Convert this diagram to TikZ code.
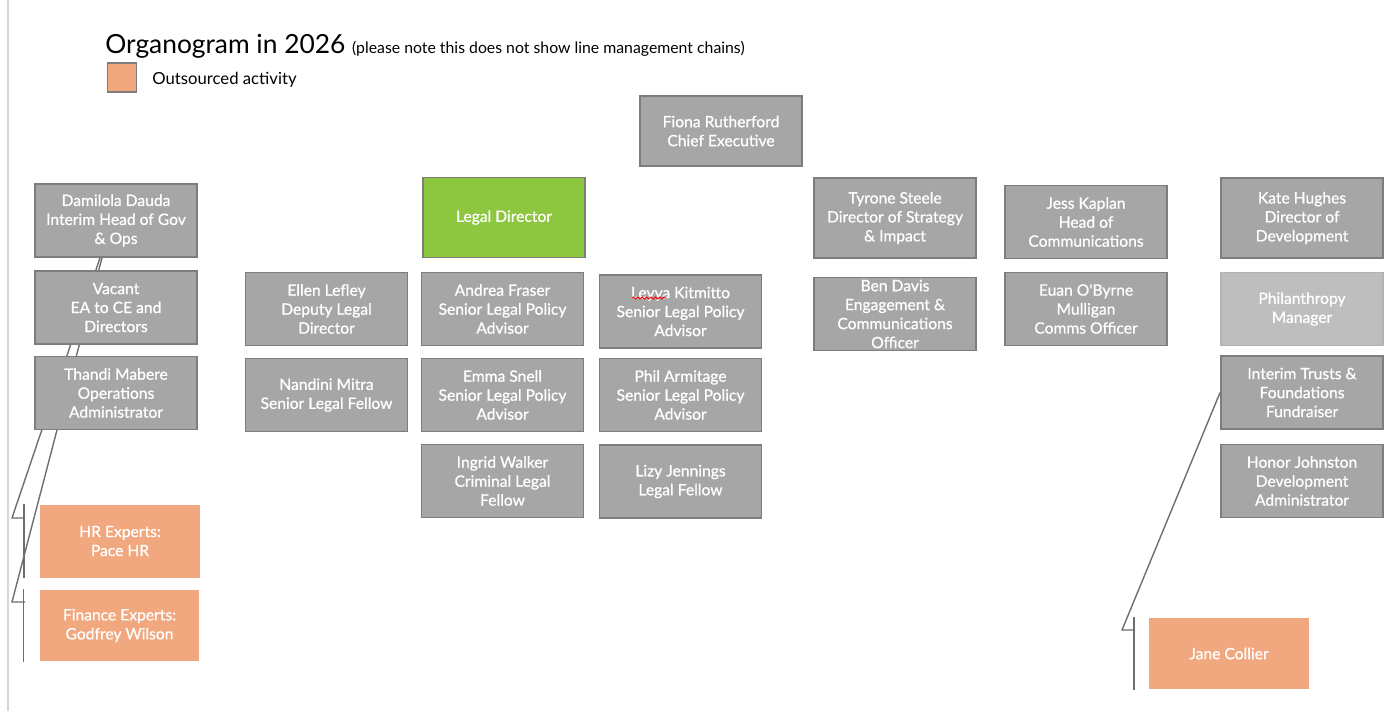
\documentclass[tikz,border=0pt]{standalone}
\usepackage{fontspec}
\setmainfont{Lato}
\newfontfamily\boxfont[FakeBold=0.8]{Lato}
\usetikzlibrary{backgrounds,decorations.pathmorphing}

\definecolor{boxfill}{RGB}{166,166,166}
\definecolor{boxline}{RGB}{125,125,125}
\definecolor{palefill}{RGB}{190,190,190}
\definecolor{paleline}{RGB}{178,178,178}
\definecolor{outfill}{RGB}{241,168,126}
\definecolor{legalgreen}{RGB}{141,198,63}
\definecolor{linkgray}{RGB}{110,110,110}
\definecolor{edgegray}{RGB}{215,215,215}

\tikzset{
  role/.style={draw=boxline, fill=boxfill, line width=1.1pt, text=white,
    minimum width=3.24cm, minimum height=1.46cm, align=center, inner sep=1pt,
    font=\boxfont\fontsize{8.9}{10.8}\selectfont},
  tall/.style={role, minimum height=1.6cm},
  pale/.style={role, fill=palefill, draw=paleline},
  outsourced/.style={role, fill=outfill, draw=none, minimum width=3.2cm},
  link/.style={draw=linkgray, line width=0.8pt}
}

\begin{document}
\begin{tikzpicture}[x=0.02cm,y=-0.02cm]
        \useasboundingbox (0,0) rectangle (1388,711);
        \draw[edgegray, line width=0.8pt] (8,0) -- (8,711);

        % title and legend
        \node[anchor=base west, inner sep=0pt] (title) at (105,53)
          {\fontsize{15}{18}\selectfont Organogram in 2026 \fontsize{9}{10}\selectfont(please note this does not show line management chains)};
        \node[draw=boxline, fill=outfill, line width=0.8pt, minimum width=0.58cm, minimum height=0.58cm] (key) at (122,77.5) {};
        \node[anchor=west, inner sep=0pt, font=\fontsize{9.5}{11}\selectfont] (keytext) at (152,80) {Outsourced activity};

        % chief executive and directors
        \node[role, minimum height=1.4cm] (fiona) at (721,131) {Fiona Rutherford\\Chief Executive};
        \node[role] (dam) at (116,220.5) {Damilola Dauda\\Interim Head of Gov\\\& Ops};
        \node[tall, fill=legalgreen, draw=boxline] (legal) at (504,217.5) {Legal Director};
        \node[tall] (tyrone) at (895,218) {Tyrone Steele\\Director of Strategy\\\& Impact};
        \node[role] (jess) at (1086,222) {Jess Kaplan\\Head of\\Communications};
        \node[tall] (kate) at (1302,218) {Kate Hughes\\Director of\\Development};

        % second row
        \node[role] (vacant) at (116,307.5) {Vacant\\EA to CE and\\Directors};
        \node[role] (ellen) at (326.5,309) {Ellen Lefley\\Deputy Legal\\Director};
        \node[role] (andrea) at (502.5,309) {Andrea Fraser\\Senior Legal Policy\\Advisor};
        \node[role] (leyya) at (680.5,311.5) {Leyya Kitmitto\\Senior Legal Policy\\Advisor};
        \node[role] (ben) at (895,314) {Ben Davis\\Engagement \&\\Communications\\Officer};
        \node[role] (euan) at (1086,309) {Euan O'Byrne\\Mulligan\\Comms Officer};
        \node[pale] (phil) at (1302,309) {Philanthropy\\Manager};

        % third row
        \node[role] (thandi) at (116,393) {Thandi Mabere\\Operations\\Administrator};
        \node[role] (nandini) at (326.5,395) {Nandini Mitra\\Senior Legal Fellow};
        \node[role] (emma) at (502.5,395) {Emma Snell\\Senior Legal Policy\\Advisor};
        \node[role] (armitage) at (680.5,395) {Phil Armitage\\Senior Legal Policy\\Advisor};
        \node[role] (trusts) at (1302,392.5) {Interim Trusts \&\\Foundations\\Fundraiser};

        % fourth row
        \node[role] (ingrid) at (502.5,481) {Ingrid Walker\\Criminal Legal\\Fellow};
        \node[role] (lizy) at (680.5,481.5) {Lizy Jennings\\Legal Fellow};
        \node[role] (honor) at (1302,481) {Honor Johnston\\Development\\Administrator};

        % outsourced
        \node[outsourced] (hr) at (120,541) {HR Experts:\\Pace HR};
        \node[outsourced, minimum height=1.42cm] (fin) at (119.5,625.5) {Finance Experts:\\Godfrey Wilson};
        \node[outsourced, minimum height=1.42cm] (jane) at (1229,653.5) {Jane Collier};

        % spell check mark
        \draw[red, line width=0.5pt, decorate, decoration={snake, amplitude=0.6pt, segment length=2.5pt}]
          ([xshift=-0.97cm, yshift=0.27cm]leyya.center) -- ([xshift=-0.29cm, yshift=0.27cm]leyya.center);

        % elbow connectors
        \coordinate (hrknee) at (12,518);
        \coordinate (hrtick) at (25,518);
        \coordinate (finknee) at (12,602);
        \coordinate (fintick) at (25,602);
        \coordinate (janeknee) at (1122,630);
        \coordinate (janetick) at (1135,630);
        \begin{scope}[on background layer]
          \draw[link] ([xshift=-0.32cm]dam.south) -- (hrknee) -- (hrtick);
          \draw[link] ([xshift=-0.28cm]dam.south) -- (finknee) -- (fintick);
          \draw[link] (trusts.west) -- (janeknee) -- (janetick);
        \end{scope}
        \draw[link] ([xshift=-0.3cm]hr.north west) -- ([xshift=-0.3cm]hr.south west);
        \draw[link] ([xshift=-0.3cm]fin.north west) -- ([xshift=-0.3cm]fin.south west);
        \draw[link] ([xshift=-0.28cm]jane.north west) -- ([xshift=-0.28cm]jane.south west);
    \end{tikzpicture}
\end{document}
